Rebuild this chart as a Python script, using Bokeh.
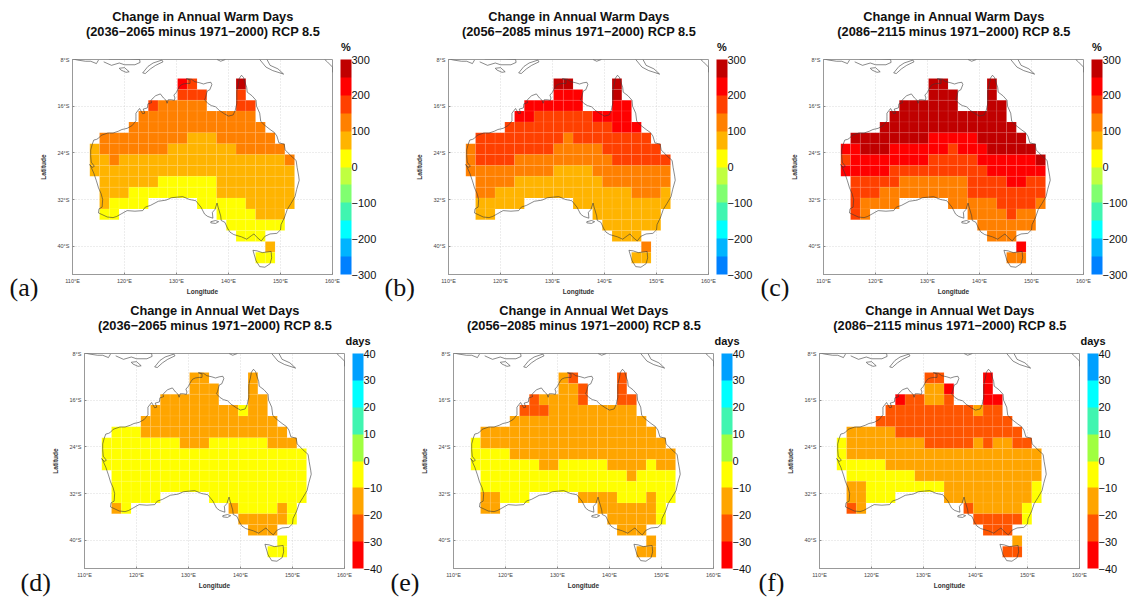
from bokeh.plotting import figure
from bokeh.layouts import column, row
from bokeh.models import (ColumnDataSource, LinearColorMapper, ColorBar, FixedTicker)
from bokeh.core.properties import value
from bokeh.embed import file_html
from bokeh.resources import INLINE

WARM_CODES = {"a": 25, "b": 75, "c": 125, "d": 175, "e": 225, "f": 275}
WET_CODES = {"Y": -5, "o": -15, "d": -25, "r": -35}
WARM_PALETTE = ["#0080ff", "#00b4ff", "#00ffff", "#40f5b0", "#80ff70", "#c0ff40",
                "#ffff00", "#ffb400", "#ff8000", "#ff4000", "#ff0000", "#c00000"]
WET_PALETTE = ["#ff0000", "#ff5500", "#ffa500", "#ffff00", "#a0ff40", "#40f5b0", "#00ffff", "#00a0ff"]
WARM_TICKS = [-300, -200, -100, 0, 100, 200, 300]
WET_TICKS = [-40, -30, -20, -10, 0, 10, 20, 30, 40]
LON_TICKS = [110, 120, 130, 140, 150, 160]
LAT_TICKS = [-8, -16, -24, -32, -40]
LON0, DLON, LAT0, DLAT = 113.33, 1.875, -11.26, 1.862
LON_MIN, LON_MAX, LAT_MIN, LAT_MAX = 110, 160, -44.85, -8
FRAME_W, FRAME_H = 260, 215

WARM_A = [
    ".........ed....f.....",
    ".........ddd...d.....",
    "......dccccc...dd....",
    ".....cccccccccccc....",
    "....cccccccccccccc...",
    ".cccccccccbbbcccccc..",
    "bcccccccbbbbbbbccccc.",
    "bbcbbbbbbbbbbbbbbbbbc",
    "bbbbbbbbbbbbbbbbbbbbb",
    ".bbbbbbaaaaaabbbbbbbb",
    ".bbbaaaaaaaaabbbbbbbb",
    ".baaaa.....aaaaabbbbb",
    ".aa..........aaaabbb.",
    "..............aaaaaa.",
    "...............aaa...",
    "..................b..",
    ".................aa..",
]
WARM_B = [
    ".........ff....f.....",
    ".........eee...f.....",
    "......eeeeee...ee....",
    ".....eeddddddeeee....",
    "....dddddddddddeee...",
    ".dddddddddcdddddddd..",
    "cddddddddcccccdddddd.",
    "cddddccccccccccdddddd",
    "cccccccccbbbbcccccccc",
    ".ccccbbbbbbbbbccccccc",
    ".ccbbbbbbbbbbbbbbcccb",
    ".bbbbb.....bbbbbbbbbb",
    ".bb..........bbbbbbb.",
    "..............bbbbbb.",
    "...............bbb...",
    "..................c..",
    ".................bb..",
]
WARM_C = [
    ".........ff....f.....",
    ".........fff...f.....",
    "......ffffff...ff....",
    ".....ffffffffffff....",
    "....ffffffffffffff...",
    ".ffffffffeeeeefffff..",
    "eefffeeeeeedeeefffff.",
    "deeeeeeeedddddeeeeeef",
    "eeeeeddddddddddeeeeee",
    ".dddddcccccccddddeedd",
    ".dddcccccccccdddddddd",
    ".dcccc.....cccccddddc",
    ".dc..........ccccdcc.",
    "..............cccccc.",
    "...............ccc...",
    "..................e..",
    ".................cc..",
]
WET_D = [
    ".........oo....o.....",
    ".........ooo...o.....",
    "......oooooo...oo....",
    ".....oooooooooYoo....",
    "....oooooooooooooo...",
    ".YYYooooooooooooooo..",
    "YYYYYYYYoooYYYYYYooo.",
    "YYYYYYYYYYYYYYYYYYYYY",
    "YYYYYYYYYYYYYYYYYYYYY",
    ".YYYYYYYYYYYYYYYYYYYY",
    ".YYYYYYYYYYYYYYYYYYYY",
    ".YYYYY.....YYYYYYYYYY",
    ".oY..........oYYYYoY.",
    "..............oooooY.",
    "...............ooo...",
    "..................Y..",
    ".................YY..",
]
WET_E = [
    ".........od....d.....",
    ".........ood...d.....",
    "......dooood...dd....",
    ".....dddooooooooo....",
    "....oooooooooooooo...",
    ".oooooooooooooooooo..",
    "Yooooooooooooooooooo.",
    "YYYYooooooooooooooooo",
    "YYYYYYYooYYYYYooooYoo",
    ".YYYYYYYYYYYYYYYoYYYY",
    ".YYYYYYYYYYYYYYYYYYYY",
    ".ooYYY.....ooooYYYoYY",
    ".oo..........ooooooY.",
    "..............oooooY.",
    "...............ooo...",
    "..................o..",
    ".................oo..",
]
WET_F = [
    ".........dd....r.....",
    ".........oor...r.....",
    "......rddood...rr....",
    ".....dddddddddodd....",
    "....dddddddddddddd...",
    ".oooooddddddddddddd..",
    "Yoooooooodddddodoodd.",
    "Yoooooooooooooooooooo",
    "YYYYYoooooooooooooooo",
    ".YYYYYYYooooooooooooo",
    ".ooYYYYYYYYoooooooooY",
    ".ooYYY.....oooooooooY",
    ".do..........doooooY.",
    "..............dddddY.",
    "...............ddd...",
    "..................o..",
    ".................dd..",
]

MAIN_LON = [114.1,114.6,115.0,115.5,116.8,117.8,118.8,119.5,120.5,121.5,122.2,122.2,122.2,122.9,123.5,123.9,123.6,124.4,124.5,125.2,125.1,125.5,126.0,126.9,127.5,128.0,128.2,128.4,129.0,129.6,129.7,129.5,130.0,130.4,130.8,131.3,132.0,132.6,132.6,131.9,132.9,133.5,134.5,135.2,135.9,136.6,136.8,136.4,135.9,135.6,135.4,136.0,136.7,137.5,138.2,139.2,140.0,140.9,141.3,141.6,141.6,141.6,141.7,141.9,142.1,142.5,142.9,143.2,143.5,143.6,144.5,145.3,145.4,146.0,146.2,147.0,148.0,148.8,149.3,149.7,150.7,150.9,152.0,153.0,153.2,153.5,153.6,153.1,152.8,152.0,151.3,150.8,150.1,150.0,149.3,148.0,147.0,146.3,145.5,144.9,144.4,143.5,142.5,141.0,140.3,139.8,139.3,138.6,138.5,138.0,137.8,137.4,136.9,137.0,136.0,135.4,134.7,133.7,132.5,131.2,130.0,129.0,128.0,126.5,125.0,124.0,123.5,122.0,120.5,119.5,118.5,117.8,116.7,115.5,115.0,115.1,115.7,115.8,115.5,115.0,114.6,114.1,113.5,113.3,113.8,114.2,113.6,113.5,113.5,113.8,114.1]
MAIN_LAT = [-21.8,-21.7,-21.5,-21.0,-20.6,-20.6,-20.3,-20.0,-19.8,-19.3,-18.5,-17.8,-17.2,-16.4,-17.3,-17.2,-16.5,-16.3,-15.6,-15.4,-15.0,-14.6,-14.2,-13.9,-14.6,-15.0,-15.5,-14.9,-14.9,-15.0,-14.6,-14.1,-13.6,-12.9,-12.4,-12.2,-12.1,-12.1,-11.5,-11.3,-11.4,-11.8,-12.0,-12.2,-12.0,-11.9,-12.3,-13.2,-13.4,-14.5,-14.9,-15.5,-15.9,-16.1,-16.7,-17.3,-17.7,-17.5,-16.7,-15.5,-14.5,-13.5,-12.9,-12.2,-11.2,-10.7,-11.1,-12.0,-12.8,-13.6,-14.2,-15.0,-16.0,-17.2,-18.6,-19.3,-20.0,-20.5,-21.1,-22.3,-22.5,-23.5,-24.5,-25.3,-26.5,-28.0,-28.7,-30.3,-31.5,-32.7,-33.7,-35.0,-36.3,-37.2,-37.8,-37.9,-38.3,-39.1,-38.5,-37.9,-38.2,-38.8,-38.4,-38.0,-37.6,-36.9,-35.9,-35.6,-34.8,-33.3,-32.6,-33.7,-34.2,-35.2,-34.9,-34.5,-33.3,-32.2,-32.0,-31.5,-31.6,-31.7,-32.1,-32.3,-33.0,-33.3,-33.9,-34.0,-33.9,-34.4,-34.9,-35.1,-35.0,-34.5,-34.3,-33.6,-33.3,-32.0,-31.0,-30.0,-28.8,-27.5,-26.3,-26.0,-26.5,-26.3,-25.6,-24.5,-23.5,-22.5,-21.8]
TAS_LON = [144.7,145.5,146.5,148.2,148.3,148.0,147.0,146.0,145.3,144.7]
TAS_LAT = [-40.7,-40.8,-41.1,-40.9,-42.0,-43.0,-43.6,-43.5,-42.5,-40.7]
KANGAROO_LON = [136.6,137.5,138.1,137.5,136.6,136.6]
KANGAROO_LAT = [-35.8,-35.6,-35.8,-36.1,-36.0,-35.8]
SUMBA_LON = [119.0,120.0,120.9,120.3,119.3,119.0]
SUMBA_LAT = [-9.5,-9.4,-10.1,-10.2,-9.8,-9.5]
TIMOR_LON = [123.5,124.5,125.5,127.2,127.4,126.0,125.0,124.0,123.5]
TIMOR_LAT = [-10.3,-9.2,-8.6,-8.1,-8.4,-9.0,-9.6,-10.4,-10.3]
FLORES_LON = [116.0,117.5,119.0,120.0,122.0,123.0,122.9,121.0,119.0,117.0]
FLORES_LAT = [-8.4,-9.0,-8.6,-8.9,-8.9,-8.5,-8.0,-7.9,-7.9,-7.9]
JAVA_LON = [109.0,111.0,112.5,113.5,114.6,115.0]
JAVA_LAT = [-7.7,-8.1,-8.3,-8.3,-8.7,-8.1]
PNG_W_LON = [137.8,138.5,139.4]
PNG_W_LAT = [-8.0,-8.3,-8.0]
PNG_S_LON = [146.0,147.2,148.5,150.6,149.5,148.0,147.4]
PNG_S_LAT = [-8.0,-9.3,-9.9,-10.5,-9.6,-9.0,-8.0]
SOLOMON_LON = [158.5,159.0,160.0,160.0]
SOLOMON_LAT = [-8.0,-8.4,-9.3,-10.2]
COAST_LONS = [MAIN_LON, TAS_LON, KANGAROO_LON, SUMBA_LON, TIMOR_LON, FLORES_LON, JAVA_LON, PNG_W_LON, PNG_S_LON, SOLOMON_LON]
COAST_LATS = [MAIN_LAT, TAS_LAT, KANGAROO_LAT, SUMBA_LAT, TIMOR_LAT, FLORES_LAT, JAVA_LAT, PNG_W_LAT, PNG_S_LAT, SOLOMON_LAT]

SANS = "Liberation Sans"


def panel(grid, codes, palette, low, high, ticks, unit, title1, title2, tag,
          fig_w, left, tag_x, tag_base, top, fig_h):
    assert all(len(r) == 21 for r in grid) and len(grid) == 17
    right = fig_w - left - FRAME_W
    bottom = fig_h - top - FRAME_H
    p = figure(width=fig_w, height=fig_h, x_range=(LON_MIN, LON_MAX), y_range=(LAT_MIN, LAT_MAX),
               output_backend="svg", toolbar_location=None,
               min_border_left=left, min_border_right=right,
               min_border_top=top, min_border_bottom=bottom)
    left_e, right_e, top_e, bottom_e, vals = [], [], [], [], []
    for j, r in enumerate(grid):
        for i, ch in enumerate(r):
            if ch in codes:
                left_e.append(LON0 + i * DLON)
                right_e.append(LON0 + (i + 1) * DLON)
                top_e.append(LAT0 - j * DLAT)
                bottom_e.append(LAT0 - (j + 1) * DLAT)
                vals.append(codes[ch])
    mapper = LinearColorMapper(palette=palette, low=low, high=high)
    src = ColumnDataSource(dict(l=left_e, r=right_e, t=top_e, b=bottom_e, v=vals))
    p.quad(left="l", right="r", top="t", bottom="b", source=src,
           fill_color={"field": "v", "transform": mapper},
           line_color="white", line_alpha=0.12, line_width=0.6)
    p.multi_line(COAST_LONS, COAST_LATS, line_color="#3a3a3a", line_width=0.7, line_alpha=0.85)

    p.xaxis.ticker = FixedTicker(ticks=LON_TICKS)
    p.yaxis.ticker = FixedTicker(ticks=LAT_TICKS)
    p.xaxis.major_label_overrides = {v: f"{v}°E" for v in LON_TICKS}
    p.yaxis.major_label_overrides = {v: f"{-v}°S" for v in LAT_TICKS}
    p.xaxis.axis_label = "Longitude"
    p.yaxis.axis_label = "Latitude"
    for ax in (p.xaxis[0], p.yaxis[0]):
        ax.axis_label_text_font = SANS
        ax.axis_label_text_font_style = "bold"
        ax.axis_label_text_font_size = "6.5px"
        ax.axis_label_text_color = "#333333"
        ax.major_label_text_font = SANS
        ax.major_label_text_font_size = "5.5px"
        ax.major_label_text_color = "#444444"
        ax.major_tick_in = 2
        ax.major_tick_out = 0
        ax.minor_tick_line_color = None
        ax.major_tick_line_color = "#888888"
        ax.axis_line_color = "#999999"
        ax.major_label_standoff = 3
    p.xaxis.axis_label_standoff = 1
    p.yaxis.axis_label_standoff = 8
    p.yaxis.major_label_orientation = "horizontal"
    p.outline_line_color = "#999999"
    p.grid.grid_line_color = "#cccccc"
    p.grid.grid_line_dash = "1 2"
    p.grid.grid_line_width = 0.7

    def lab(px, py, text, font=SANS, size="12.8px", style="bold", align="center", base="middle"):
        # px: pixels right of the frame's left edge; py: pixels above the frame's top edge
        r = p.text(x=[LON_MIN + px * (LON_MAX - LON_MIN) / FRAME_W],
                   y=[LAT_MAX + py * (LAT_MAX - LAT_MIN) / FRAME_H], text=[text],
                   text_font=value(font), text_font_size=size, text_font_style=style,
                   text_align=align, text_baseline=base, text_color="#111111")
        r.level = "overlay"

    lab(130.5, 43.5, title1)
    lab(130.5, 28.3, title2)
    lab(273.5, 12.5, unit, size="11px")
    lab(tag_x, tag_base, tag, font="Liberation Serif", size="26px", style="normal", align="left")

    cb = ColorBar(color_mapper=mapper, location=(268, 0), width=11, height=FRAME_H, padding=0,
                  ticker=FixedTicker(ticks=ticks), label_standoff=0,
                  major_label_overrides={t: (f"\u2212{-t}" if t < 0 else str(t)) for t in ticks},
                  major_label_text_font=SANS, major_label_text_font_size="11px",
                  major_label_text_color="#111111", major_tick_line_color=None,
                  bar_line_color=None, background_fill_alpha=0, border_line_color=None)
    p.add_layout(cb)
    return p


def warm(grid, a, b, tag, fig_w, left, tag_x):
    return panel(grid, WARM_CODES, WARM_PALETTE, -300, 300, WARM_TICKS, "%",
                 "Change in Annual Warm Days", f"({a}\u2212{b} minus 1971\u22122000) RCP 8.5",
                 tag, fig_w, left, tag_x, -228, 59, 303)


def wet(grid, a, b, tag, fig_w, left, tag_x):
    return panel(grid, WET_CODES, WET_PALETTE, -40, 40, WET_TICKS, "days",
                 "Change in Annual Wet Days", f"({a}\u2212{b} minus 1971\u22122000) RCP 8.5",
                 tag, fig_w, left, tag_x, -229, 50, 294)


top_row = row(
    warm(WARM_A, 2036, 2065, "(a)", 380, 72, -63),
    warm(WARM_B, 2056, 2085, "(b)", 378, 68, -64),
    warm(WARM_C, 2086, 2115, "(c)", 370, 65, -63),
    spacing=0,
)
bottom_row = row(
    wet(WET_D, 2036, 2065, "(d)", 387, 84, -64),
    wet(WET_E, 2056, 2085, "(e)", 368, 66, -63),
    wet(WET_F, 2086, 2115, "(f)", 373, 64, -61),
    spacing=0,
)
page = column(top_row, bottom_row, spacing=0)
open("out.html", "w").write(file_html(page, INLINE))
